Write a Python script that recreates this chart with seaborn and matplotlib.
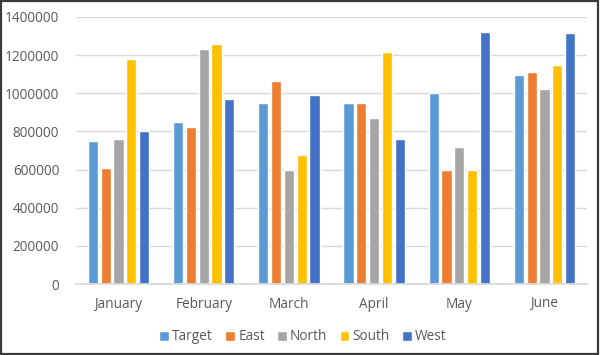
import matplotlib
matplotlib.use("Agg")
import matplotlib.pyplot as plt
import seaborn as sns
import pandas as pd
from matplotlib.patches import Rectangle

months = ["January", "February", "March", "April", "May", "June"]
series = ["Target", "East", "North", "South", "West"]
target = [750000, 850000, 950000, 950000, 1000000, 1095000]
east = [610000, 825000, 1065000, 950000, 600000, 1110000]
north = [760000, 1230000, 600000, 870000, 720000, 1025000]
south = [1180000, 1260000, 675000, 1215000, 600000, 1150000]
west = [800000, 970000, 990000, 760000, 1320000, 1315000]
yticks = [0, 200000, 400000, 600000, 800000, 1000000, 1200000, 1400000]
colors = ["#5B9BD5", "#ED7D31", "#A5A5A5", "#FFC000", "#4472C4"]

values = {"Target": target, "East": east, "North": north, "South": south, "West": west}
rows = []
for s in series:
    for m, v in zip(months, values[s]):
        rows.append({"Month": m, "Series": s, "Value": v})
df = pd.DataFrame(rows)

sns.set_theme(style="white")
plt.rcParams["font.family"] = ["Open Sans", "DejaVu Sans"]

fig = plt.figure(figsize=(6, 3.55), dpi=100)
ax = fig.add_axes([76/600, 1 - 284/355, (587-76)/600, (284-17)/355])

sns.barplot(data=df, x="Month", y="Value", hue="Series", order=months,
            hue_order=series, palette=colors, width=0.75, gap=0.2,
            saturation=1, ax=ax, legend=True)

ax.set_ylim(0, 1400000)
ax.set_yticks(yticks)
ax.set_yticklabels([str(t) for t in yticks])
ax.set_xlabel("")
ax.set_ylabel("")
ax.yaxis.grid(True, color="#D9D9D9", linewidth=1)
ax.set_axisbelow(True)
for s in ["left", "right", "top"]:
    ax.spines[s].set_visible(False)
ax.spines["bottom"].set_color("#D9D9D9")
ax.tick_params(axis="both", length=0, labelsize=9.8, colors="#595959")
ax.tick_params(axis="x", pad=9)
ax.tick_params(axis="y", pad=12)

handles, labels = ax.get_legend_handles_labels()
ax.legend_.remove()
fig.legend(handles, labels, loc="center", bbox_to_anchor=(0.505, 1 - 337/355),
           ncol=5, frameon=False, fontsize=9.8, handlelength=0.7, handleheight=0.7,
           handletextpad=0.25, columnspacing=0.9, labelcolor="#595959")

fig.patches.append(Rectangle((0.002, 0.003), 0.994, 0.994, transform=fig.transFigure,
                             fill=False, edgecolor="#3A3A3A", linewidth=1.6))

fig.savefig("out.png", dpi=100)
